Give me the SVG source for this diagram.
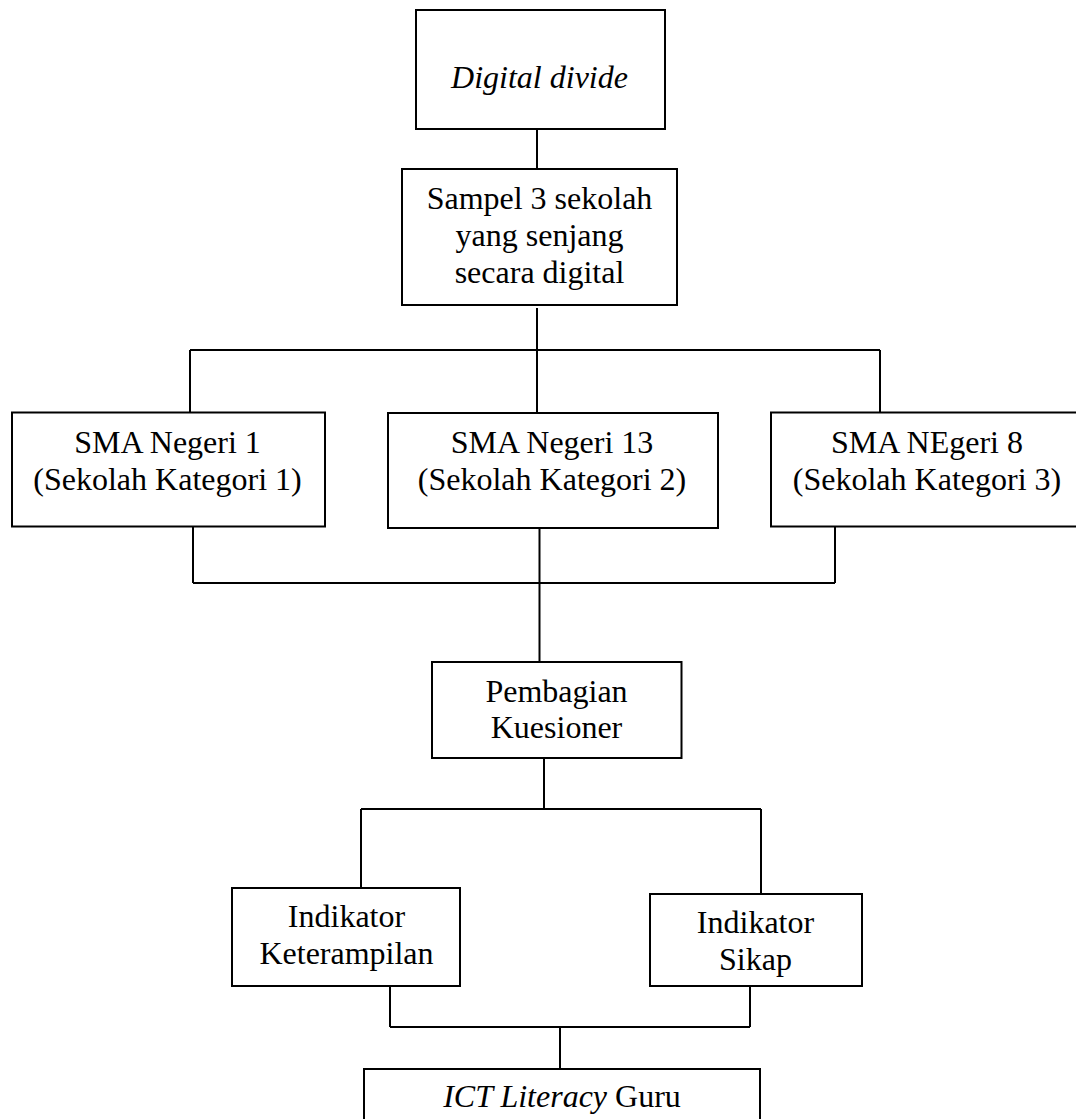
<svg xmlns="http://www.w3.org/2000/svg" width="1076" height="1119" viewBox="0 0 1076 1119">
<style>
.box{fill:#fff;stroke:#000;stroke-width:2}
.t{font-family:"Liberation Serif","Times New Roman",serif;font-size:32px;fill:#000;text-anchor:middle}
.i{font-style:italic}
.c{stroke:#000;stroke-width:2;fill:none}
</style>
<rect width="1076" height="1119" fill="#fff"/>
<g id="connectors">
<line class="c" x1="537" y1="130" x2="537" y2="169"/>
<line class="c" x1="537" y1="308" x2="537" y2="350"/>
<line class="c" x1="190" y1="350" x2="880" y2="350"/>
<line class="c" x1="190" y1="350" x2="190" y2="412"/>
<line class="c" x1="537" y1="350" x2="537" y2="412"/>
<line class="c" x1="880" y1="350" x2="880" y2="412"/>
<line class="c" x1="193" y1="527" x2="193" y2="583"/>
<line class="c" x1="193" y1="583" x2="835" y2="583"/>
<line class="c" x1="835" y1="527" x2="835" y2="583"/>
<line class="c" x1="539.5" y1="525" x2="539.5" y2="662"/>
<line class="c" x1="544" y1="758" x2="544" y2="809"/>
<line class="c" x1="361" y1="809" x2="761" y2="809"/>
<line class="c" x1="361" y1="809" x2="361" y2="888"/>
<line class="c" x1="761" y1="809" x2="761" y2="894"/>
<line class="c" x1="390" y1="986" x2="390" y2="1027"/>
<line class="c" x1="390" y1="1027" x2="750" y2="1027"/>
<line class="c" x1="750" y1="986" x2="750" y2="1027"/>
<line class="c" x1="560" y1="1027" x2="560" y2="1069"/>
</g>
<g id="digital-divide">
<rect class="box" x="416" y="10" width="249" height="119"/>
<text class="t i" x="539.5" y="88">Digital divide</text>
</g>
<g id="sampel">
<rect class="box" x="402" y="169" width="275" height="136"/>
<text class="t" x="539.5" y="209">Sampel 3 sekolah</text>
<text class="t" x="539.5" y="246">yang senjang</text>
<text class="t" x="539.5" y="283">secara digital</text>
</g>
<g id="sma1">
<rect class="box" x="12" y="412.5" width="313" height="114"/>
<text class="t" x="167.5" y="453">SMA Negeri 1</text>
<text class="t" x="167.5" y="490">(Sekolah Kategori 1)</text>
</g>
<g id="sma13">
<rect class="box" x="388" y="413" width="330" height="115"/>
<text class="t" x="552" y="453">SMA Negeri 13</text>
<text class="t" x="552" y="490">(Sekolah Kategori 2)</text>
</g>
<g id="sma8">
<rect class="box" x="771" y="412.5" width="320" height="114"/>
<text class="t" x="927" y="453">SMA NEgeri 8</text>
<text class="t" x="927" y="490">(Sekolah Kategori 3)</text>
</g>
<g id="pembagian">
<rect class="box" x="432" y="662" width="249.5" height="96"/>
<text class="t" x="556.5" y="702">Pembagian</text>
<text class="t" x="556.5" y="738">Kuesioner</text>
</g>
<g id="keterampilan">
<rect class="box" x="232" y="888" width="228" height="98"/>
<text class="t" x="346.5" y="927">Indikator</text>
<text class="t" x="346.5" y="964">Keterampilan</text>
</g>
<g id="sikap">
<rect class="box" x="650" y="894" width="212" height="92"/>
<text class="t" x="755.5" y="933">Indikator</text>
<text class="t" x="755.5" y="970">Sikap</text>
</g>
<g id="ict">
<rect class="box" x="364" y="1069" width="396" height="80"/>
<text class="t" x="562" y="1107"><tspan class="i">ICT Literacy</tspan> Guru</text>
</g>
</svg>
